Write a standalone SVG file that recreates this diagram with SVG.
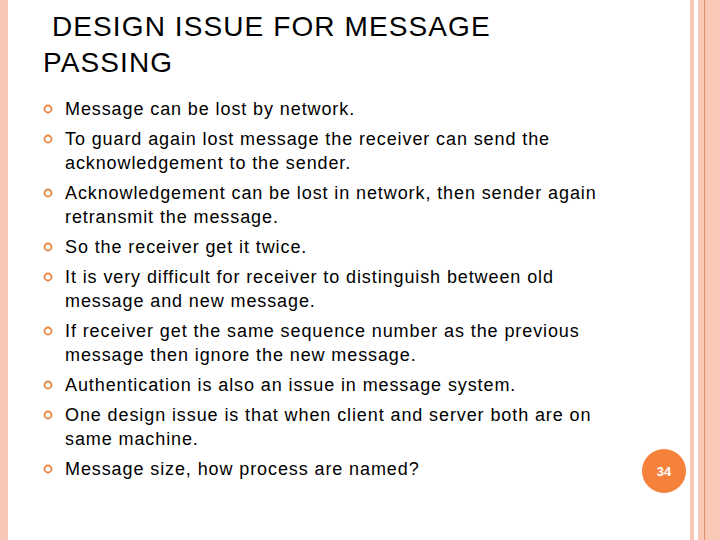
<svg xmlns="http://www.w3.org/2000/svg" width="720" height="540" viewBox="0 0 720 540">
<style>
.t{font-family:"Liberation Sans",Arial,sans-serif;font-size:18px;letter-spacing:0.9px;fill:#000}
.h{font-family:"Liberation Sans",Arial,sans-serif;font-size:28px;letter-spacing:1.1px;fill:#000}
.b{fill:none;stroke:#E8853D;stroke-width:1.8}
</style>
<rect width="720" height="540" fill="#fff"/>
<rect x="0" y="0" width="8" height="540" fill="#F8C6B4"/>
<rect x="690" y="0" width="4" height="540" fill="#F8C6B4"/>
<rect x="698" y="0" width="22" height="540" fill="#F9C9B6"/>
<rect x="704" y="0" width="1.2" height="540" fill="#E0956E"/>
<g id="title">
<text class="h" x="52" y="36">DESIGN ISSUE FOR MESSAGE</text>
<text class="h" x="43" y="72">PASSING</text>
</g>
<g id="bullets">
<circle class="b" cx="48" cy="109" r="3.5"/>
<circle class="b" cx="48" cy="139" r="3.5"/>
<circle class="b" cx="48" cy="193" r="3.5"/>
<circle class="b" cx="48" cy="247" r="3.5"/>
<circle class="b" cx="48" cy="277" r="3.5"/>
<circle class="b" cx="48" cy="331" r="3.5"/>
<circle class="b" cx="48" cy="385" r="3.5"/>
<circle class="b" cx="48" cy="415" r="3.5"/>
<circle class="b" cx="48" cy="469" r="3.5"/>
</g>
<g id="body">
<text class="t" x="65" y="115">Message can be lost by network.</text>
<text class="t" x="65" y="145">To guard again lost message the receiver can send the</text>
<text class="t" x="65" y="169">acknowledgement to the sender.</text>
<text class="t" x="65" y="199">Acknowledgement can be lost in network, then sender again</text>
<text class="t" x="65" y="223">retransmit the message.</text>
<text class="t" x="65" y="253">So the receiver get it twice.</text>
<text class="t" x="65" y="283">It is very difficult for receiver to distinguish between old</text>
<text class="t" x="65" y="307">message and new message.</text>
<text class="t" x="65" y="337">If receiver get the same sequence number as the previous</text>
<text class="t" x="65" y="361">message then ignore the new message.</text>
<text class="t" x="65" y="391">Authentication is also an issue in message system.</text>
<text class="t" x="65" y="421">One design issue is that when client and server both are on</text>
<text class="t" x="65" y="445">same machine.</text>
<text class="t" x="65" y="475">Message size, how process are named?</text>
</g>
<g id="page">
<circle cx="664" cy="471" r="22" fill="#F5813A"/>
<text x="664" y="476" text-anchor="middle" font-family="Liberation Sans,Arial,sans-serif" font-size="13" font-weight="bold" fill="#fff">34</text>
</g>
</svg>
